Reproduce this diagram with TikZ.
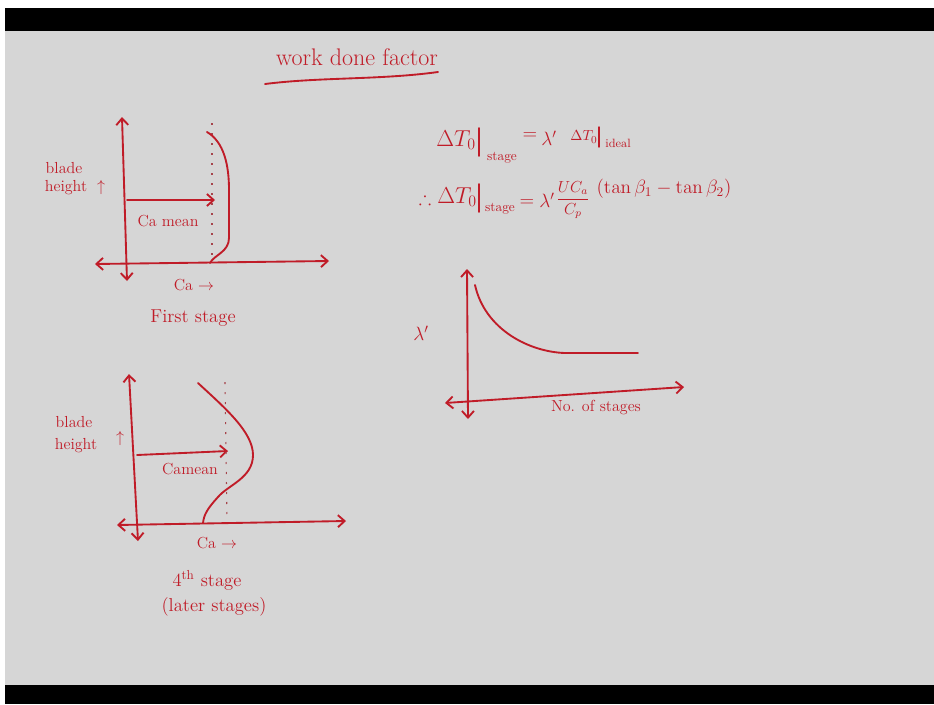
\documentclass[tikz,border=0pt]{standalone}
\usepackage{amsmath,amssymb}
\usetikzlibrary{arrows.meta}
\definecolor{ink}{RGB}{192,28,40}
\definecolor{board}{RGB}{214,214,214}
\tikzset{
  pen/.style={draw=ink, line width=1.4pt, line cap=round, line join=round},
  axis/.style={pen, {Straight Barb[length=5pt,width=9pt]}-{Straight Barb[length=5pt,width=9pt]}},
  onearrow/.style={pen, -{Straight Barb[length=5pt,width=9pt]}},
  guide/.style={draw=ink!60!gray, line width=0.8pt, dash pattern=on 1.5pt off 6pt},
  lbl/.style={text=ink, inner sep=0pt, font=\fontsize{12}{14}\selectfont},
  big/.style={lbl, font=\fontsize{14}{16}\selectfont},
  small/.style={lbl, font=\fontsize{9}{10}\selectfont}
}
\begin{document}
\begin{tikzpicture}[x=0.75pt,y=-0.75pt]
% frame
\fill[white] (0,0) rectangle (934,704);
\fill[black] (5,8) rectangle (934,31);
\fill[board] (5,31) rectangle (934,685);
\fill[black] (5,685) rectangle (934,704);
\useasboundingbox (0,0) rectangle (934,704);

% title
\node[lbl, font=\fontsize{18}{20}\selectfont] (title) at (357,57) {work done factor};
\coordinate (ul1) at (265,84);
\coordinate (ul2) at (438,72);
\draw[pen] (ul1) .. controls (320,77) and (380,80) .. (ul2);

% ---------- first stage ----------
\coordinate (a1t) at (122,117);
\coordinate (a1b) at (127,281);
\coordinate (a1l) at (95,264);
\coordinate (a1r) at (329,261);
\draw[axis] (a1b) -- (a1t);
\draw[axis] (a1l) -- (a1r);
\coordinate (m1s) at (127,200);
\coordinate (m1e) at (215,200);
\draw[onearrow] (m1s) -- (m1e);
\coordinate (d1t) at (212,123);
\coordinate (d1b) at (212,257);
\draw[guide] (d1t) -- (d1b);
\coordinate (c1s) at (207,132);
\coordinate (c1e) at (210,263);
\draw[pen] (c1s) .. controls (224,142) and (229,165) .. (229,190) -- (229,238)
  .. controls (229,252) and (214,255) .. (c1e);
\node[lbl] (bl1) at (64,168) {blade};
\node[lbl] (ht1) at (66,188) {height};
\node[lbl] (up1) at (101,187) {$\uparrow$};
\node[lbl] (cam1) at (168,221) {Ca mean};
\node[lbl] (ca1) at (194,285) {Ca $\rightarrow$};
\node[big] (fs) at (193,318) {First stage};

% ---------- 4th stage ----------
\coordinate (a2t) at (129,374);
\coordinate (a2b) at (138,541);
\coordinate (a2l) at (117,525);
\coordinate (a2r) at (346,521);
\draw[axis] (a2b) -- (a2t);
\draw[axis] (a2l) -- (a2r);
\coordinate (m2s) at (137,455);
\coordinate (m2e) at (228,451);
\draw[onearrow] (m2s) -- (m2e);
\coordinate (d2t) at (225,382);
\coordinate (d2b) at (227,520);
\draw[guide] (d2t) -- (d2b);
\coordinate (c2s) at (198,383);
\coordinate (c2e) at (203,523);
\draw[pen] (c2s) .. controls (225,408) and (253,432) .. (253,455)
  .. controls (253,478) and (228,485) .. (218,497)
  .. controls (208,508) and (204,514) .. (c2e);
\node[lbl] (bl2) at (74,422) {blade};
\node[lbl] (ht2) at (76,446) {height};
\node[lbl] (up2) at (120,438) {$\uparrow$};
\node[lbl] (cam2) at (190,469) {Camean};
\node[lbl] (ca2) at (217,543) {Ca $\rightarrow$};
\node[big] (st4) at (207,580) {4$^{\text{th}}$ stage};
\node[big] (later) at (214,607) {(later stages)};

% ---------- equations ----------
\node[lbl, font=\fontsize{17}{19}\selectfont] (dt1) at (456,140) {$\Delta T_0$};
\coordinate (b1t) at (479,128);
\coordinate (b1b) at (479,156);
\draw[pen, line width=1.2pt] (b1t) -- (b1b);
\node[small, font=\fontsize{10}{11}\selectfont] (stg1) at (502,158) {stage};
\node[big] (eq1) at (530,136) {$=$};
\node[big] (lam1) at (549,138) {$\lambda'$};
\node[lbl, font=\fontsize{11}{12}\selectfont] (dt1b) at (584,137) {$\Delta T_0$};
\coordinate (b2t) at (599,127);
\coordinate (b2b) at (599,147);
\draw[pen, line width=1.1pt] (b2t) -- (b2b);
\node[small] (idl) at (618,143) {ideal};

\node[big] (thf) at (425,198) {$\therefore$};
\node[lbl, font=\fontsize{17}{19}\selectfont] (dt2) at (457,197) {$\Delta T_0$};
\coordinate (b3t) at (479,184);
\coordinate (b3b) at (479,212);
\draw[pen, line width=1.2pt] (b3t) -- (b3b);
\node[small, font=\fontsize{10}{11}\selectfont] (stg2) at (500,209) {stage};
\node[big] (eq2) at (527,203) {$=$};
\node[big] (lam2) at (547,200) {$\lambda'$};
\node[lbl] (frac) at (573,200) {$\dfrac{UC_a}{C_p}$};
\node[lbl, font=\fontsize{14}{16}\selectfont] (tan) at (664,189) {$(\tan\beta_1 - \tan\beta_2)$};

% ---------- lambda' vs stages ----------
\coordinate (a3t) at (467,269);
\coordinate (a3b) at (468,419);
\coordinate (a3l) at (445,403);
\coordinate (a3r) at (684,387);
\draw[axis] (a3b) -- (a3t);
\draw[axis] (a3l) -- (a3r);
\coordinate (c3s) at (475,285);
\coordinate (c3e) at (638,353);
\draw[pen] (c3s) .. controls (485,330) and (530,352) .. (565,353) -- (c3e);
\node[big] (lam3) at (421,333) {$\lambda'$};
\node[lbl] (nos) at (596,407) {No. of stages};
\end{tikzpicture}
\end{document}
